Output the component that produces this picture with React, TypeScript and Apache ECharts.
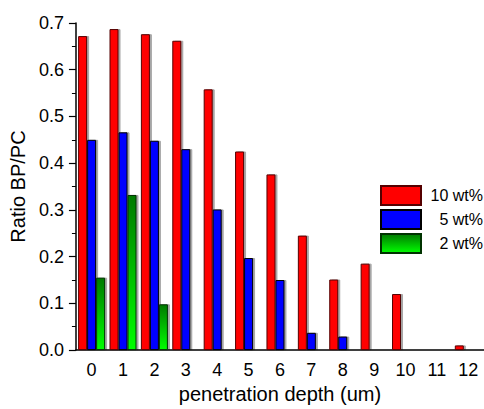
import React, { useEffect, useRef } from "react";
import * as echarts from "echarts";

const categories = ["0", "1", "2", "3", "4", "5", "6", "7", "8", "9", "10", "11", "12"];
const seriesNames = ["10 wt%", "5 wt%", "2 wt%"];
const values10 = [0.672, 0.687, 0.676, 0.662, 0.558, 0.425, 0.376, 0.245, 0.151, 0.185, 0.12, null, 0.01];
const values5 = [0.45, 0.466, 0.448, 0.43, 0.301, 0.197, 0.15, 0.037, 0.029, null, null, null, null];
const values2 = [0.155, 0.332, 0.098, null, null, null, null, null, null, null, null, null, null];

const FONT = "Liberation Sans";

export default function App() {
  const ref = useRef<HTMLDivElement>(null);
  useEffect(() => {
    if (!ref.current) return;
    const chart = echarts.init(ref.current, null, { renderer: "svg" });
    const shadow = { shadowColor: "rgba(0,0,0,0.35)", shadowOffsetX: 2, shadowOffsetY: 0, shadowBlur: 0 };
    const green = new echarts.graphic.LinearGradient(0, 0, 0, 1, [
      { offset: 0, color: "#007a00" },
      { offset: 1, color: "#00ff00" },
    ]);
    chart.setOption({
      animation: false,
      backgroundColor: "#fff",
      textStyle: { fontFamily: FONT },
      grid: { left: 67, top: 23, width: 419, height: 337 },
      legend: {
        left: 380,
        top: 185,
        padding: 0,
        orient: "vertical",
        itemWidth: 40,
        itemHeight: 19,
        itemGap: 3,
        icon: "rect",
        data: seriesNames,
        formatter: (n: string) => `{a|${n}}`,
        textStyle: {
          fontFamily: FONT,
          fontSize: 16,
          color: "#000",
          rich: { a: { width: 57, align: "right", fontSize: 16, fontFamily: FONT, color: "#000" } },
        },
      },
      xAxis: {
        type: "category",
        data: categories,
        name: "penetration depth (um)",
        nameLocation: "middle",
        nameGap: 26,
        nameTextStyle: { fontSize: 20, color: "#000", fontFamily: FONT },
        axisLine: { lineStyle: { color: "#000", width: 1.5 } },
        axisTick: { alignWithLabel: true, length: 6, lineStyle: { color: "#000", width: 1.2 } },
        axisLabel: { fontSize: 18, color: "#000", margin: 11, fontFamily: FONT },
        splitLine: { show: false },
      },
      yAxis: {
        type: "value",
        min: 0,
        max: 0.7,
        interval: 0.1,
        name: "Ratio BP/PC",
        nameLocation: "middle",
        nameGap: 38,
        nameTextStyle: { fontSize: 20, color: "#000", fontFamily: FONT },
        axisLine: { show: true, lineStyle: { color: "#000", width: 1.5 } },
        axisTick: { show: true, length: 7, lineStyle: { color: "#000", width: 1.2 } },
        minorTick: { show: true, splitNumber: 2, length: 4, lineStyle: { color: "#000", width: 1 } },
        axisLabel: { fontSize: 18, color: "#000", margin: 12, fontFamily: FONT, formatter: (v: number) => v.toFixed(1) },
        splitLine: { show: false },
      },
      series: [
        {
          name: seriesNames[0],
          type: "bar",
          data: values10,
          barWidth: 9,
          barGap: "0%",
          itemStyle: { color: "#ff0000", borderColor: "#500", borderWidth: 1, ...shadow },
        },
        {
          name: seriesNames[1],
          type: "bar",
          data: values5,
          barWidth: 9,
          barGap: "0%",
          itemStyle: { color: "#0000ff", borderColor: "#000", borderWidth: 1, ...shadow },
        },
        {
          name: seriesNames[2],
          type: "bar",
          data: values2,
          barWidth: 9,
          barGap: "0%",
          itemStyle: { color: green, borderColor: "#003300", borderWidth: 1, ...shadow },
        },
      ],
    });
    return () => chart.dispose();
  }, []);
  return <div ref={ref} style={{ width: 484, height: 409, position: "absolute", left: 0, top: 0 }} />;
}
